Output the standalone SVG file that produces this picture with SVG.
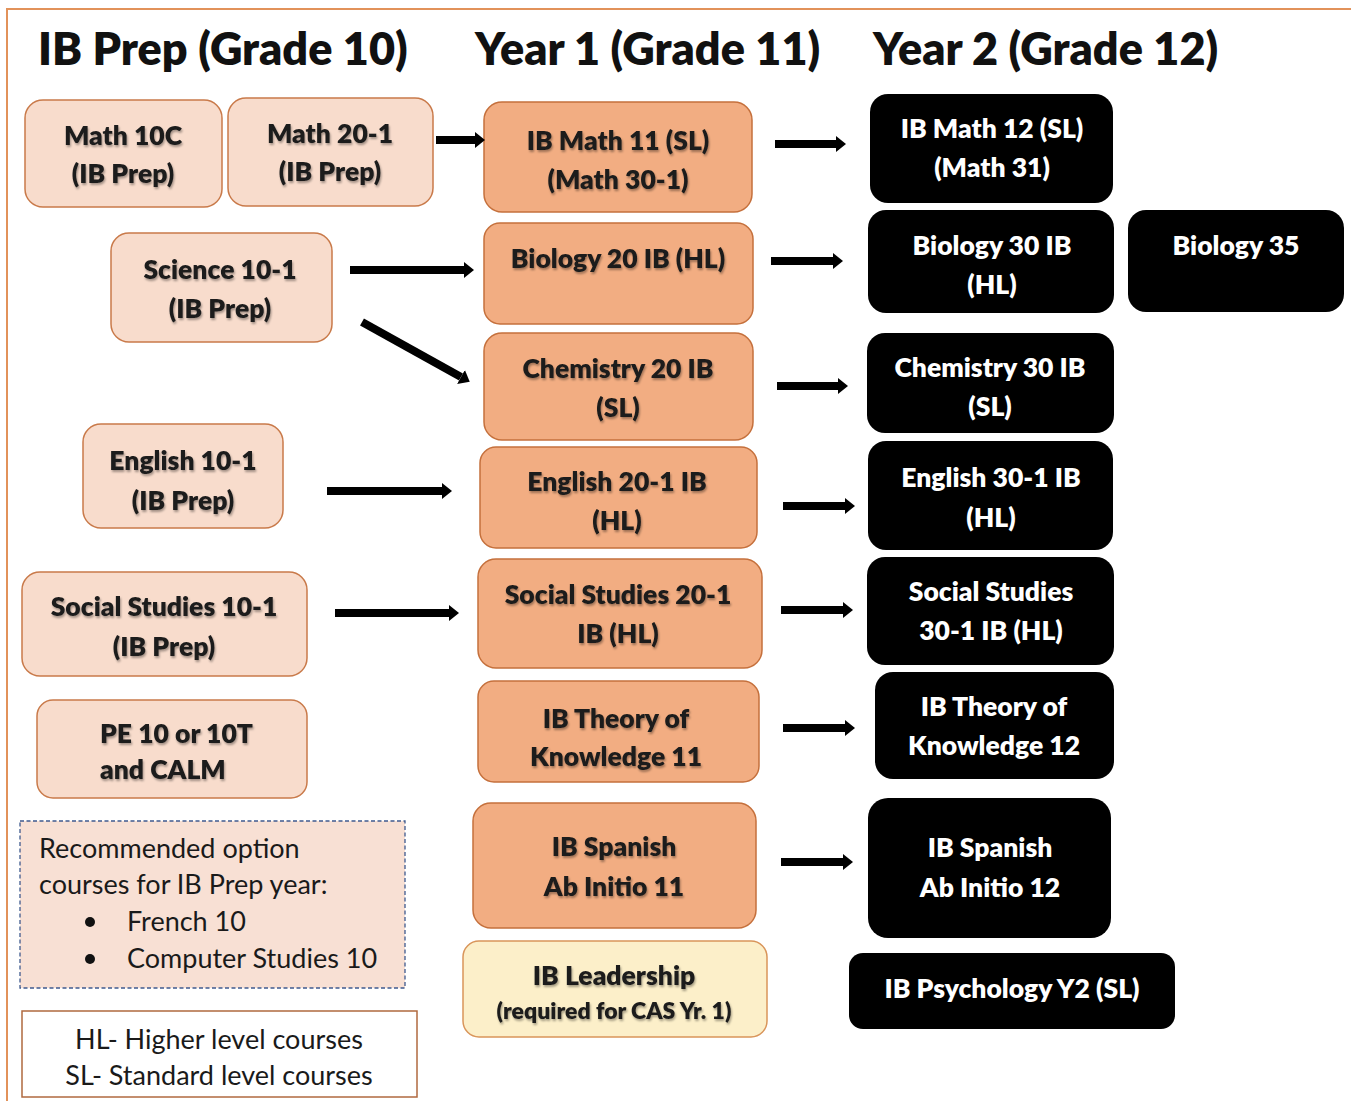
<svg xmlns="http://www.w3.org/2000/svg" width="1351" height="1101" viewBox="0 0 1351 1101">
<defs>
  <filter id="ts" x="-10%" y="-30%" width="120%" height="160%">
    <feDropShadow dx="1" dy="2" stdDeviation="1.3" flood-color="#000" flood-opacity="0.35"/>
  </filter>
  <marker id="ah" markerUnits="userSpaceOnUse" markerWidth="11" markerHeight="18" refX="0" refY="8" orient="auto">
    <path d="M0,0 L10,8 L0,16 Z" fill="#000"/>
  </marker>
</defs>
<style>
  text { font-family: Lato, "Open Sans", "Liberation Sans", sans-serif; }
  .h { font-size: 45px; font-weight: 800; fill: #111; }
  .pk rect { fill: #F8DCCC; stroke: #C97A4A; stroke-width: 1.5; }
  .or rect { fill: #F2AD82; stroke: #C5703C; stroke-width: 1.5; }
  .yl rect { fill: #FCEFC9; stroke: #D9955A; stroke-width: 1.5; }
  .bk rect { fill: #000; }
  .t { font-size: 26.5px; font-weight: 800; fill: #1a1a1a; text-anchor: middle; filter: url(#ts); }
  .w { font-size: 26.5px; font-weight: 800; fill: #fff; text-anchor: middle; }
  .r { font-size: 27px; font-weight: 400; fill: #1a1a1a; }
  .conn line { stroke: #000; stroke-width: 8; marker-end: url(#ah); }
</style>
<rect x="0" y="0" width="1351" height="1101" fill="#fff"/>
<path d="M7,1101 V9 H1351" fill="none" stroke="#E2925A" stroke-width="2"/>

<text class="h" x="38" y="65">IB Prep (Grade 10)</text>
<text class="h" x="475" y="65">Year 1 (Grade 11)</text>
<text class="h" x="873" y="65">Year 2 (Grade 12)</text>

<!-- Grade 10 -->
<g id="math10c" class="pk"><rect x="25" y="100" width="197" height="107" rx="18"/>
  <text class="t" x="123" y="145">Math 10C</text><text class="t" x="123" y="183">(IB Prep)</text></g>
<g id="math201" class="pk"><rect x="228" y="98" width="205" height="108" rx="18"/>
  <text class="t" x="330" y="143">Math 20-1</text><text class="t" x="330" y="181">(IB Prep)</text></g>
<g id="science10" class="pk"><rect x="111" y="233" width="221" height="109" rx="18"/>
  <text class="t" x="220" y="279">Science 10-1</text><text class="t" x="220" y="318">(IB Prep)</text></g>
<g id="english10" class="pk"><rect x="83" y="424" width="200" height="104" rx="18"/>
  <text class="t" x="183" y="470">English 10-1</text><text class="t" x="183" y="510">(IB Prep)</text></g>
<g id="social10" class="pk"><rect x="22" y="572" width="285" height="104" rx="18"/>
  <text class="t" x="164" y="616">Social Studies 10-1</text><text class="t" x="164" y="656">(IB Prep)</text></g>
<g id="pe10" class="pk"><rect x="37" y="700" width="270" height="98" rx="16"/>
  <text class="t" x="100" y="743" style="text-anchor:start">PE 10 or 10T</text><text class="t" x="100" y="779" style="text-anchor:start">and CALM</text></g>
<g id="recommended"><rect x="20" y="821" width="385" height="167" fill="#F8E0D4" stroke="#3F5A8E" stroke-width="1.3" stroke-dasharray="4,2.5"/>
  <text class="r" x="39" y="858">Recommended option</text>
  <text class="r" x="39" y="894">courses for IB Prep year:</text>
  <circle cx="90" cy="922" r="5" fill="#111"/><text class="r" x="127" y="931">French 10</text>
  <circle cx="90" cy="959" r="5" fill="#111"/><text class="r" x="127" y="968">Computer Studies 10</text></g>
<g id="legend"><rect x="22" y="1011" width="395" height="86" fill="#fff" stroke="#B0693F" stroke-width="1.5"/>
  <text class="r" x="219" y="1049" text-anchor="middle">HL- Higher level courses</text>
  <text class="r" x="219" y="1085" text-anchor="middle">SL- Standard level courses</text></g>

<!-- Grade 11 -->
<g id="ibmath11" class="or"><rect x="484" y="102" width="268" height="110" rx="18"/>
  <text class="t" x="618" y="150">IB Math 11 (SL)</text><text class="t" x="618" y="189">(Math 30-1)</text></g>
<g id="bio20" class="or"><rect x="484" y="223" width="269" height="101" rx="16"/>
  <text class="t" x="618" y="268">Biology 20 IB (HL)</text></g>
<g id="chem20" class="or"><rect x="484" y="333" width="269" height="107" rx="18"/>
  <text class="t" x="618" y="378">Chemistry 20 IB</text><text class="t" x="618" y="417">(SL)</text></g>
<g id="eng20" class="or"><rect x="480" y="447" width="277" height="101" rx="16"/>
  <text class="t" x="617" y="491">English 20-1 IB</text><text class="t" x="617" y="530">(HL)</text></g>
<g id="soc20" class="or"><rect x="478" y="559" width="284" height="109" rx="18"/>
  <text class="t" x="618" y="604">Social Studies 20-1</text><text class="t" x="618" y="643">IB (HL)</text></g>
<g id="tok11" class="or"><rect x="478" y="681" width="281" height="101" rx="16"/>
  <text class="t" x="616" y="728">IB Theory of</text><text class="t" x="616" y="766">Knowledge 11</text></g>
<g id="span11" class="or"><rect x="473" y="803" width="283" height="125" rx="18"/>
  <text class="t" x="614" y="856">IB Spanish</text><text class="t" x="614" y="896">Ab Initio 11</text></g>
<g id="leader" class="yl"><rect x="463" y="941" width="304" height="96" rx="16"/>
  <text class="t" x="614" y="985">IB Leadership</text><text class="t" x="614" y="1019" style="font-size:23px">(required for CAS Yr. 1)</text></g>

<!-- Grade 12 -->
<g id="ibmath12" class="bk"><rect x="870" y="94" width="243" height="109" rx="18"/>
  <text class="w" x="992" y="138">IB Math 12 (SL)</text><text class="w" x="992" y="177">(Math 31)</text></g>
<g id="bio30" class="bk"><rect x="868" y="210" width="246" height="103" rx="18"/>
  <text class="w" x="992" y="255">Biology 30 IB</text><text class="w" x="992" y="294">(HL)</text></g>
<g id="bio35" class="bk"><rect x="1128" y="210" width="216" height="102" rx="18"/>
  <text class="w" x="1236" y="255">Biology 35</text></g>
<g id="chem30" class="bk"><rect x="867" y="333" width="247" height="100" rx="18"/>
  <text class="w" x="990" y="377">Chemistry 30 IB</text><text class="w" x="990" y="416">(SL)</text></g>
<g id="eng30" class="bk"><rect x="868" y="441" width="245" height="109" rx="18"/>
  <text class="w" x="991" y="487">English 30-1 IB</text><text class="w" x="991" y="527">(HL)</text></g>
<g id="soc30" class="bk"><rect x="867" y="557" width="247" height="108" rx="18"/>
  <text class="w" x="991" y="601">Social Studies</text><text class="w" x="991" y="640">30-1 IB (HL)</text></g>
<g id="tok12" class="bk"><rect x="875" y="672" width="239" height="107" rx="18"/>
  <text class="w" x="994" y="716">IB Theory of</text><text class="w" x="994" y="755">Knowledge 12</text></g>
<g id="span12" class="bk"><rect x="868" y="798" width="243" height="140" rx="20"/>
  <text class="w" x="990" y="857">IB Spanish</text><text class="w" x="990" y="897">Ab Initio 12</text></g>
<g id="psych" class="bk"><rect x="849" y="953" width="326" height="76" rx="14"/>
  <text class="w" x="1012" y="998">IB Psychology Y2 (SL)</text></g>

<g id="connectors" class="conn">
  <line x1="436" y1="140" x2="475" y2="140"/>
  <line x1="775" y1="144" x2="836" y2="144"/>
  <line x1="350" y1="270" x2="464" y2="270"/>
  <line x1="362" y1="322" x2="461" y2="377"/>
  <line x1="771" y1="261" x2="833" y2="261"/>
  <line x1="777" y1="386" x2="838" y2="386"/>
  <line x1="327" y1="491" x2="442" y2="491"/>
  <line x1="783" y1="506" x2="845" y2="506"/>
  <line x1="335" y1="613" x2="449" y2="613"/>
  <line x1="781" y1="610" x2="843" y2="610"/>
  <line x1="783" y1="728" x2="845" y2="728"/>
  <line x1="781" y1="862" x2="843" y2="862"/>
</g>
</svg>
